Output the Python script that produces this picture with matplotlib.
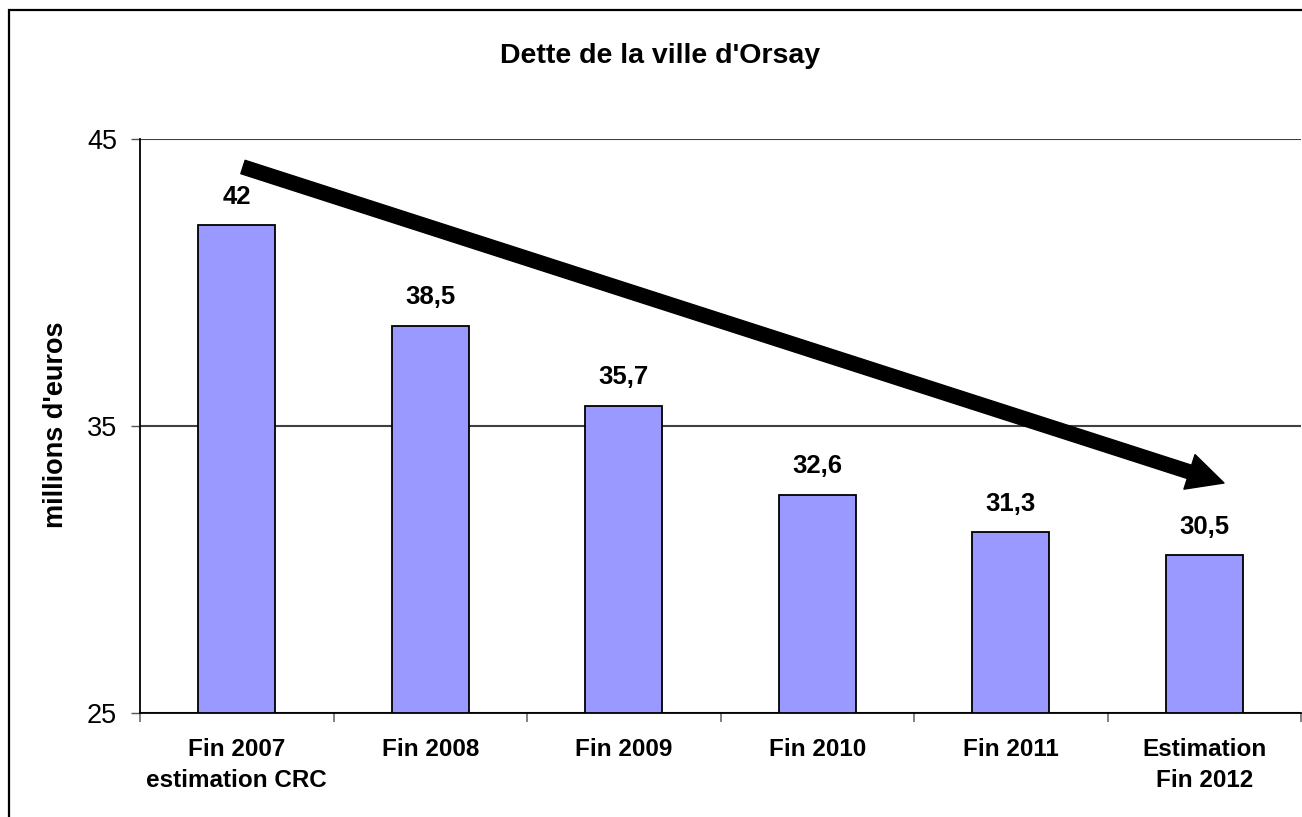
import matplotlib
matplotlib.use("Agg")
import matplotlib.pyplot as plt
from matplotlib.patches import Rectangle
import numpy as np

categories = ["Fin 2007\nestimation CRC", "Fin 2008", "Fin 2009",
              "Fin 2010", "Fin 2011", "Estimation\nFin 2012"]
dette = [42, 38.5, 35.7, 32.6, 31.3, 30.5]
dette_labels = ["42", "38,5", "35,7", "32,6", "31,3", "30,5"]
y_ticks = [25, 35, 45]

plt.rcParams['font.family'] = ['Liberation Sans', 'DejaVu Sans']

W, H = 1302, 817
fig = plt.figure(figsize=(W / 100, H / 100), dpi=100)
ax = fig.add_axes([140 / W, 1 - 713 / H, 1161 / W, 574 / H])

x = np.arange(len(categories))
ax.bar(x, [v - 25 for v in dette], bottom=25, width=0.40, color='#9999ff',
       edgecolor='black', linewidth=1.3, zorder=3)
for xi, v, lab in zip(x, dette, dette_labels):
    ax.annotate(lab, (xi, v), xytext=(0, 15.5), textcoords='offset points',
                ha='center', va='baseline', fontsize=18.5, fontweight='bold')

ax.set_xlim(-0.5, len(categories) - 0.5)
ax.set_ylim(25, 45)
ax.set_yticks(y_ticks)
ax.set_yticklabels([str(t) for t in y_ticks], fontsize=19.5)
ax.tick_params(axis='y', length=6.5, width=1, color='#555555', pad=10)
ax.yaxis.grid(True, color='#404040', linewidth=1.5, zorder=0)

ax.set_xticks(x)
ax.set_xticklabels(categories, fontsize=17.5, fontweight='bold', linespacing=1.45)
ax.tick_params(axis='x', which='major', length=0, pad=18)
ax.set_xticks(np.arange(len(categories) + 1) - 0.5, minor=True)
ax.tick_params(axis='x', which='minor', length=6.5, width=1.3, color='#777777')

for s in ['top', 'right']:
    ax.spines[s].set_visible(False)
for s in ['left', 'bottom']:
    ax.spines[s].set_linewidth(1.3)
    ax.spines[s].set_color('black')

fig.text(660 / W, 1 - 63 / H, "Dette de la ville d'Orsay", ha='center',
         va='baseline', fontsize=20.5, fontweight='bold')
fig.text(56 / W, 1 - 425 / H, "millions d'euros", ha='center', va='center',
         rotation=90, fontsize=19.5, fontweight='bold')

# big trend arrow
ax.annotate('', xy=(1224, H - 483), xytext=(243, H - 167),
            xycoords='figure pixels', textcoords='figure pixels',
            arrowprops=dict(arrowstyle='simple,head_length=1.45,head_width=1.45,tail_width=0.56',
                            mutation_scale=18, color='black', shrinkA=0, shrinkB=0))

# chart frame
fig.add_artist(Rectangle((9 / W, -0.1), 1.2, 0.1 + 807 / H, transform=fig.transFigure,
                         fill=False, edgecolor='black', linewidth=1.6))

fig.savefig('out.png', dpi=100)
